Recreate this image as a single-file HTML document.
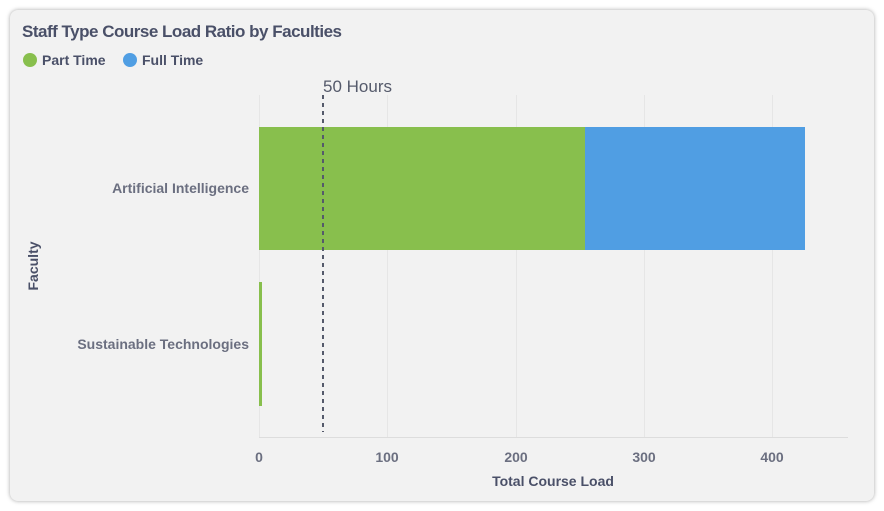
<!DOCTYPE html>
<html><head><style>
body{margin:0;width:884px;height:511px;background:#fff;font-family:"Liberation Sans",sans-serif;overflow:hidden}
.card{position:absolute;left:10px;top:10px;width:864px;height:491px;background:#f2f2f2;border-radius:8px;box-shadow:0 0 4px rgba(0,0,0,.35)}
</style></head><body>
<div class="card"></div>
<svg width="884" height="511" style="position:absolute;left:0;top:0" font-family="Liberation Sans, sans-serif">
<text x="22" y="37" font-size="17" font-weight="bold" fill="#4a5068" textLength="320">Staff Type Course Load Ratio by Faculties</text>
<circle cx="30" cy="60" r="7" fill="#88bf4d"/>
<text x="42" y="65" font-size="14" font-weight="bold" fill="#4a5068">Part Time</text>
<circle cx="130" cy="60" r="7" fill="#509ee3"/>
<text x="142" y="65" font-size="14" font-weight="bold" fill="#4a5068">Full Time</text>
<g stroke="#e6e6e6" stroke-width="1">
<line x1="259.5" y1="95" x2="259.5" y2="437"/><line x1="387.5" y1="95" x2="387.5" y2="437"/><line x1="516.5" y1="95" x2="516.5" y2="437"/><line x1="644.5" y1="95" x2="644.5" y2="437"/><line x1="772.5" y1="95" x2="772.5" y2="437"/>
</g>
<line x1="259" y1="437.5" x2="848" y2="437.5" stroke="#ddd"/>
<rect x="259" y="127" width="326" height="123" fill="#88bf4d"/>
<rect x="585" y="127" width="220" height="123" fill="#509ee3"/>
<rect x="259" y="282" width="3" height="124" fill="#88bf4d"/>
<line x1="323" y1="95" x2="323" y2="432" stroke="#555a6b" stroke-width="2" stroke-dasharray="4,4"/>
<text x="323" y="92" font-size="17" fill="#555a6b">50 Hours</text>
<g font-size="14" font-weight="bold" fill="#6b6f80" text-anchor="end">
<text x="249" y="193">Artificial Intelligence</text>
<text x="249" y="349">Sustainable Technologies</text>
</g>
<g font-size="14" font-weight="bold" fill="#6b6f80" text-anchor="middle">
<text x="259" y="462">0</text><text x="387" y="462">100</text><text x="516" y="462">200</text><text x="644" y="462">300</text><text x="772" y="462">400</text>
<text x="553" y="486" font-size="14" fill="#4a5068">Total Course Load</text>
</g>
<text transform="translate(38,266) rotate(-90)" font-size="14" font-weight="bold" fill="#4a5068" text-anchor="middle">Faculty</text>
</svg>
</body></html>
